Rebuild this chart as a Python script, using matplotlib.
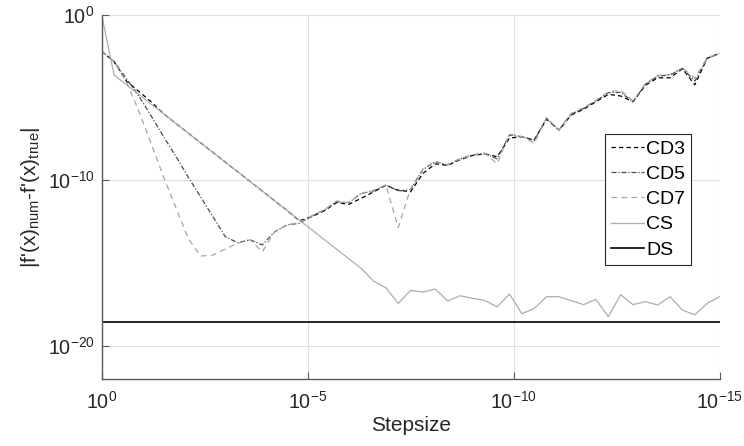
import numpy as np
import matplotlib
matplotlib.use("Agg")
import matplotlib.pyplot as plt
from matplotlib.ticker import NullLocator

plt.rcParams['font.family'] = ['Liberation Sans', 'DejaVu Sans']
plt.rcParams['mathtext.default'] = 'regular'

# stepsizes: 51 points, 10^0 ... 10^-15
stepsize = np.logspace(0, -15, 51)

# log10 of the absolute derivative error
cd3_log = [-2.2, -2.82, -4.0, -4.62, -5.25, -5.97, -6.56, -7.14, -7.73, -8.31,
           -8.90, -9.48, -10.07, -10.65, -11.24, -11.82, -12.45, -12.2, -11.85, -11.35,
           -11.45, -11.09, -10.7, -10.3, -10.6, -10.69, -9.58, -9.0, -9.1, -8.75,
           -8.5, -8.4, -8.57, -7.45, -7.36, -7.56, -6.3, -6.96, -6.05, -5.7,
           -5.25, -4.8, -4.9, -5.25, -4.25, -3.8, -3.8, -3.25, -4.23, -2.62,
           -2.32]
cd5_log = [-2.2, -2.82, -3.85, -4.9, -6.1, -7.35, -8.55, -9.8, -11.0, -12.2,
           -13.41, -13.77, -13.6, -13.91, -13.11, -12.7, -12.6, -12.16, -11.8, -11.29,
           -11.35, -10.79, -10.65, -10.28, -10.65, -10.55, -9.34, -8.87, -9.07, -8.7,
           -8.47, -8.39, -8.7, -7.26, -7.36, -7.6, -6.25, -6.96, -6.0, -5.65,
           -5.2, -4.7, -4.68, -5.25, -4.2, -3.7, -3.63, -3.23, -4.0, -2.62,
           -2.32]
cd7_log = [-2.2, -2.82, -4.03, -5.81, -7.78, -9.78, -11.65, -13.51, -14.58, -14.52,
           -14.16, -13.81, -13.6, -14.32, -13.11, -12.7, -12.55, -12.16, -11.8, -11.25,
           -11.35, -10.8, -10.6, -10.28, -12.85, -10.5, -9.3, -8.85, -9.05, -8.7,
           -8.45, -8.35, -9.0, -7.2, -7.36, -7.76, -6.2, -6.96, -5.95, -5.6,
           -5.15, -4.65, -4.55, -5.2, -4.15, -3.65, -3.6, -3.2, -3.82, -2.6,
           -2.3]
cs_log = [0.0, -3.63, -4.22, -4.80, -5.39, -5.97, -6.56, -7.14, -7.73, -8.31,
          -8.90, -9.48, -10.07, -10.65, -11.24, -11.82, -12.41, -12.99, -13.58, -14.16,
          -14.75, -15.33, -16.09, -16.5, -17.44, -16.66, -16.76, -16.58, -17.3, -16.98,
          -17.14, -17.26, -17.66, -16.88, -18.07, -17.75, -17.04, -17.04, -17.28, -17.52,
          -17.2, -18.25, -16.92, -17.52, -17.34, -17.54, -17.04, -17.85, -18.13, -17.44,
          -17.04]
ds_err = 2.8e-19

fig = plt.figure(figsize=(7.44, 4.46), dpi=100)
ax = fig.add_axes([0.1367, 0.1509, 0.8304, 0.8155])

lw = 0.9
ax.plot(stepsize, 10.0 ** np.array(cd3_log), color='black', ls=(0, (3.5, 2.5)), lw=lw, label='CD3')
ax.plot(stepsize, 10.0 ** np.array(cd5_log), color='0.3', ls=(0, (4, 1.5, 1, 1.5)), lw=lw, label='CD5')
ax.plot(stepsize, 10.0 ** np.array(cd7_log), color='0.65', ls=(0, (4.5, 3.5)), lw=lw, label='CD7')
ax.plot(stepsize, 10.0 ** np.array(cs_log), color='0.68', ls='-', lw=lw, label='CS')
ax.axhline(ds_err, color='black', lw=1.2, label='DS')

ax.set_xscale('log')
ax.set_yscale('log')
ax.set_xlim(1, 1e-15)
ax.set_ylim(1e-22, 1)
ax.set_xticks([1, 1e-5, 1e-10, 1e-15])
ax.set_yticks([1e-20, 1e-10, 1])
ax.xaxis.set_minor_locator(NullLocator())
ax.yaxis.set_minor_locator(NullLocator())
ax.grid(True, color='0.88', lw=0.8)
ax.set_axisbelow(True)

for side in ['top', 'right']:
    ax.spines[side].set_visible(False)
for side in ['left', 'bottom']:
    ax.spines[side].set_color('0.35')
    ax.spines[side].set_linewidth(1.0)
ax.tick_params(which='major', direction='in', length=5, width=0.8, color='0.35',
               labelsize=14.2, labelcolor='0.15')
ax.tick_params(axis='x', pad=9)
ax.tick_params(axis='y', pad=5)

ax.set_xlabel('Stepsize', fontsize=15, color='0.15', labelpad=2)
ax.set_ylabel(r"|f'(x)$_{num}$-f'(x)$_{true}$|", fontsize=15, color='0.15', labelpad=4)

leg = ax.legend(loc='upper left', bbox_to_anchor=(605 / 744, 1 - 134 / 446),
                bbox_transform=fig.transFigure, borderaxespad=0, fontsize=14,
                frameon=True, fancybox=False, framealpha=1, edgecolor='0.15',
                handlelength=1.7, handletextpad=0.1, labelspacing=0.39,
                borderpad=0.32)
leg.get_frame().set_linewidth(0.8)

fig.savefig('out.png', dpi=100)
